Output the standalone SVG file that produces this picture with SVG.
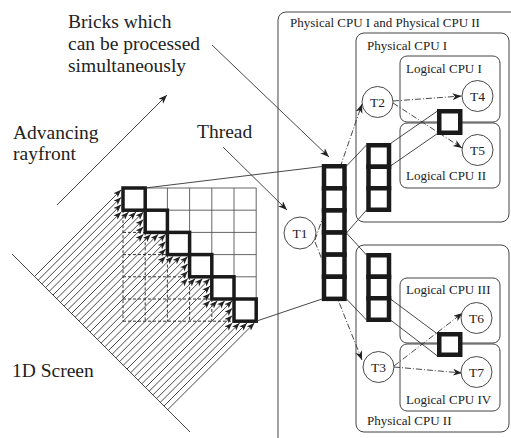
<svg xmlns="http://www.w3.org/2000/svg" width="511" height="438" viewBox="0 0 511 438">
  <style>
    .lbl { font-family: "Liberation Serif", "Times New Roman", serif; fill: #222; }
    .big { font-size: 19.5px; }
    .small { font-size: 13px; }
    .node { font-size: 13.5px; text-anchor: middle; }
    .box { fill: none; stroke: #444; stroke-width: 1; }
    .thin { stroke: #333; stroke-width: 0.9; fill: none; }
    .grid { stroke: #555; stroke-width: 0.9; fill: none; }
    .dash { stroke: #333; stroke-width: 1; stroke-dasharray: 3 2; fill: none; }
    .ray { stroke: #333; stroke-width: 0.9; marker-end: url(#rayHead); }
    .dd { stroke: #333; stroke-width: 0.9; stroke-dasharray: 6 2 1 2; fill: none; marker-end: url(#head); }
    .brick { fill: #fff; stroke: #1a1a1a; stroke-width: 4.5; }
    .step { fill: none; stroke: #1a1a1a; stroke-width: 3.5; }
    .circ { fill: #fff; stroke: #333; stroke-width: 0.9; }
  </style>
  <defs>
    <marker id="head" markerUnits="userSpaceOnUse" markerWidth="10" markerHeight="8" refX="9" refY="3.5" orient="auto">
      <path d="M0,0 L9,3.5 L0,7 L2.5,3.5 z" fill="#222"/>
    </marker>
    <marker id="rayHead" markerUnits="userSpaceOnUse" markerWidth="9" markerHeight="7" refX="8" refY="3" orient="auto">
      <path d="M0,0 L8,3 L0,6 L2,3 z" fill="#222"/>
    </marker>
  </defs>

  <rect width="511" height="438" fill="#fff"/>

  <!-- CPU boxes -->
  <g id="cpu-all">
    <rect class="box" x="278" y="12" width="262" height="460" rx="8"/>
    <text class="lbl small" x="290" y="27">Physical CPU I and Physical CPU II</text>
  </g>
  <g id="cpu-phys-1">
    <rect class="box" x="356" y="33" width="153" height="189" rx="8"/>
    <text class="lbl small" x="367" y="50">Physical CPU I</text>
  </g>
  <g id="cpu-phys-2">
    <rect class="box" x="356" y="245" width="153" height="187" rx="8"/>
    <text class="lbl small" x="367" y="425">Physical CPU II</text>
  </g>
  <g id="cpu-log-1">
    <rect class="box" x="400" y="56" width="100" height="66" rx="7"/>
    <text class="lbl small" x="406" y="73">Logical CPU I</text>
  </g>
  <g id="cpu-log-2">
    <rect class="box" x="400" y="123" width="100" height="65" rx="7"/>
    <text class="lbl small" x="406" y="180">Logical CPU II</text>
  </g>
  <g id="cpu-log-3">
    <rect class="box" x="400" y="278" width="100" height="65" rx="7"/>
    <text class="lbl small" x="406" y="294">Logical CPU III</text>
  </g>
  <g id="cpu-log-4">
    <rect class="box" x="400" y="344" width="100" height="67" rx="7"/>
    <text class="lbl small" x="406" y="404">Logical CPU IV</text>
  </g>

  <!-- brick grid -->
  <g id="grid">
    <g class="grid">
      <line x1="123" y1="188" x2="256.2" y2="188"/>
      <line x1="145.2" y1="210.2" x2="256.2" y2="210.2"/>
      <line x1="167.4" y1="232.4" x2="256.2" y2="232.4"/>
      <line x1="189.6" y1="254.6" x2="256.2" y2="254.6"/>
      <line x1="211.8" y1="276.8" x2="256.2" y2="276.8"/>
      <line x1="234" y1="299" x2="256.2" y2="299"/>
      <line x1="145.2" y1="188" x2="145.2" y2="210.2"/>
      <line x1="167.4" y1="188" x2="167.4" y2="232.4"/>
      <line x1="189.6" y1="188" x2="189.6" y2="254.6"/>
      <line x1="211.8" y1="188" x2="211.8" y2="276.8"/>
      <line x1="234" y1="188" x2="234" y2="299"/>
      <line x1="256.2" y1="188" x2="256.2" y2="321.2"/>
    </g>
    <g class="dash">
      <line x1="123" y1="232.4" x2="145.2" y2="232.4"/>
      <line x1="123" y1="254.6" x2="167.4" y2="254.6"/>
      <line x1="123" y1="276.8" x2="189.6" y2="276.8"/>
      <line x1="123" y1="299" x2="211.8" y2="299"/>
      <line x1="123" y1="321.2" x2="234" y2="321.2"/>
      <line x1="123" y1="210.2" x2="123" y2="321.2"/>
      <line x1="145.2" y1="232.4" x2="145.2" y2="321.2"/>
      <line x1="167.4" y1="254.6" x2="167.4" y2="321.2"/>
      <line x1="189.6" y1="276.8" x2="189.6" y2="321.2"/>
      <line x1="211.8" y1="299" x2="211.8" y2="321.2"/>
    </g>
  </g>

  <!-- 1D screen and rays -->
  <g id="screen">
    <line class="thin" x1="12" y1="254" x2="190" y2="432"/>
    <text class="lbl big" x="12" y="377">1D Screen</text>
  </g>
  <g id="rays">
    <line class="ray" x1="34.5" y1="276.5" x2="121.2" y2="189.8"/>
    <line class="ray" x1="38.2" y1="280.2" x2="121.2" y2="197.2"/>
    <line class="ray" x1="41.9" y1="283.9" x2="121.2" y2="204.6"/>
    <line class="ray" x1="45.6" y1="287.6" x2="121.2" y2="212"/>
    <line class="ray" x1="49.3" y1="291.3" x2="128.6" y2="212"/>
    <line class="ray" x1="53" y1="295" x2="136" y2="212"/>
    <line class="ray" x1="56.7" y1="298.7" x2="143.4" y2="212"/>
    <line class="ray" x1="60.4" y1="302.4" x2="143.4" y2="219.4"/>
    <line class="ray" x1="64.1" y1="306.1" x2="143.4" y2="226.8"/>
    <line class="ray" x1="67.8" y1="309.8" x2="143.4" y2="234.2"/>
    <line class="ray" x1="71.5" y1="313.5" x2="150.8" y2="234.2"/>
    <line class="ray" x1="75.2" y1="317.2" x2="158.2" y2="234.2"/>
    <line class="ray" x1="78.9" y1="320.9" x2="165.6" y2="234.2"/>
    <line class="ray" x1="82.6" y1="324.6" x2="165.6" y2="241.6"/>
    <line class="ray" x1="86.3" y1="328.3" x2="165.6" y2="249"/>
    <line class="ray" x1="90" y1="332" x2="165.6" y2="256.4"/>
    <line class="ray" x1="93.7" y1="335.7" x2="173" y2="256.4"/>
    <line class="ray" x1="97.4" y1="339.4" x2="180.4" y2="256.4"/>
    <line class="ray" x1="101.1" y1="343.1" x2="187.8" y2="256.4"/>
    <line class="ray" x1="104.8" y1="346.8" x2="187.8" y2="263.8"/>
    <line class="ray" x1="108.5" y1="350.5" x2="187.8" y2="271.2"/>
    <line class="ray" x1="112.2" y1="354.2" x2="187.8" y2="278.6"/>
    <line class="ray" x1="115.9" y1="357.9" x2="195.2" y2="278.6"/>
    <line class="ray" x1="119.6" y1="361.6" x2="202.6" y2="278.6"/>
    <line class="ray" x1="123.3" y1="365.3" x2="210" y2="278.6"/>
    <line class="ray" x1="127" y1="369" x2="210" y2="286"/>
    <line class="ray" x1="130.7" y1="372.7" x2="210" y2="293.4"/>
    <line class="ray" x1="134.4" y1="376.4" x2="210" y2="300.8"/>
    <line class="ray" x1="138.1" y1="380.1" x2="217.4" y2="300.8"/>
    <line class="ray" x1="141.8" y1="383.8" x2="224.8" y2="300.8"/>
    <line class="ray" x1="145.5" y1="387.5" x2="232.2" y2="300.8"/>
    <line class="ray" x1="149.2" y1="391.2" x2="232.2" y2="308.2"/>
    <line class="ray" x1="152.9" y1="394.9" x2="232.2" y2="315.6"/>
    <line class="ray" x1="156.6" y1="398.6" x2="232.2" y2="323"/>
    <line class="ray" x1="160.3" y1="402.3" x2="239.6" y2="323"/>
    <line class="ray" x1="164" y1="406" x2="247" y2="323"/>
    <line class="ray" x1="167.7" y1="409.7" x2="254.4" y2="323"/>
  </g>

  <!-- diagonal of bricks processed together -->
  <g id="wavefront">
    <rect class="step" x="123" y="188" width="22.2" height="22.2"/>
    <rect class="step" x="145.2" y="210.2" width="22.2" height="22.2"/>
    <rect class="step" x="167.4" y="232.4" width="22.2" height="22.2"/>
    <rect class="step" x="189.6" y="254.6" width="22.2" height="22.2"/>
    <rect class="step" x="211.8" y="276.8" width="22.2" height="22.2"/>
    <rect class="step" x="234" y="299" width="22.2" height="22.2"/>
  </g>

  <!-- connectors -->
  <g id="connectors">
    <line class="thin" x1="145.2" y1="188" x2="322" y2="166.5"/>
    <line class="thin" x1="256.2" y1="321.2" x2="322" y2="299"/>
    <line class="thin" x1="346.5" y1="166" x2="366.5" y2="145"/>
    <line class="thin" x1="346.5" y1="233" x2="366.5" y2="210"/>
    <line class="thin" x1="346.5" y1="233" x2="366.5" y2="255"/>
    <line class="thin" x1="346.5" y1="299" x2="366.5" y2="320"/>
    <line class="thin" x1="390.5" y1="143.5" x2="437.5" y2="111"/>
    <line class="thin" x1="390.5" y1="166" x2="437.5" y2="133.5"/>
    <line class="thin" x1="390.5" y1="299" x2="437.5" y2="334"/>
    <line class="thin" x1="390.5" y1="320" x2="437.5" y2="356"/>
    <line class="thin" x1="57" y1="205" x2="167" y2="95" marker-end="url(#head)"/>
    <line class="thin" x1="212" y1="45" x2="329" y2="157" marker-end="url(#head)"/>
    <line class="thin" x1="223" y1="147" x2="287" y2="210" marker-end="url(#head)"/>
    <line class="dd" x1="315" y1="240" x2="362" y2="104"/>
    <line class="dd" x1="315" y1="242" x2="362" y2="360"/>
    <line class="dd" x1="393" y1="101" x2="461.5" y2="96"/>
    <line class="dd" x1="393" y1="103" x2="462" y2="148"/>
    <line class="dd" x1="394" y1="366" x2="462.5" y2="313"/>
    <line class="dd" x1="394" y1="367" x2="462" y2="373"/>
  </g>

  <!-- brick columns -->
  <g id="bricks-thread">
    <rect class="brick" x="324" y="166.25" width="20.5" height="22.1"/>
    <rect class="brick" x="324" y="188.35" width="20.5" height="22.1"/>
    <rect class="brick" x="324" y="210.45" width="20.5" height="22.1"/>
    <rect class="brick" x="324" y="232.55" width="20.5" height="22.1"/>
    <rect class="brick" x="324" y="254.65" width="20.5" height="22.1"/>
    <rect class="brick" x="324" y="276.75" width="20.5" height="22.1"/>
  </g>
  <g id="bricks-cpu1">
    <rect class="brick" x="368.5" y="145.25" width="20.5" height="21.5"/>
    <rect class="brick" x="368.5" y="166.75" width="20.5" height="21.5"/>
    <rect class="brick" x="368.5" y="188.25" width="20.5" height="21.5"/>
  </g>
  <g id="bricks-cpu2">
    <rect class="brick" x="368.5" y="255.25" width="20.5" height="21.5"/>
    <rect class="brick" x="368.5" y="276.75" width="20.5" height="21.5"/>
    <rect class="brick" x="368.5" y="298.25" width="20.5" height="21.5"/>
  </g>
  <g id="brick-log12">
    <rect class="brick" x="439.25" y="111.25" width="21" height="21.5"/>
  </g>
  <g id="brick-log34">
    <rect class="brick" x="439.25" y="334.25" width="21" height="20.5"/>
  </g>

  <!-- threads -->
  <g id="t1"><circle class="circ" cx="300" cy="233" r="16"/><text class="lbl node" x="300" y="238">T1</text></g>
  <g id="t2"><circle class="circ" cx="377.5" cy="102" r="15.5"/><text class="lbl node" x="377.5" y="107">T2</text></g>
  <g id="t3"><circle class="circ" cx="378.5" cy="367" r="15.5"/><text class="lbl node" x="378.5" y="372">T3</text></g>
  <g id="t4"><circle class="circ" cx="477.5" cy="96" r="15.5"/><text class="lbl node" x="477.5" y="101">T4</text></g>
  <g id="t5"><circle class="circ" cx="477.5" cy="150" r="15.5"/><text class="lbl node" x="477.5" y="155">T5</text></g>
  <g id="t6"><circle class="circ" cx="476.5" cy="318" r="15.5"/><text class="lbl node" x="476.5" y="323">T6</text></g>
  <g id="t7"><circle class="circ" cx="476.5" cy="372" r="15.5"/><text class="lbl node" x="476.5" y="377">T7</text></g>

  <!-- annotations -->
  <g id="notes">
    <text class="lbl big" x="68" y="28">Bricks which</text>
    <text class="lbl big" x="68" y="50">can be processed</text>
    <text class="lbl big" x="68" y="72">simultaneously</text>
    <text class="lbl big" x="13" y="139">Advancing</text>
    <text class="lbl big" x="13" y="160">rayfront</text>
    <text class="lbl big" x="197" y="138">Thread</text>
  </g>
</svg>
